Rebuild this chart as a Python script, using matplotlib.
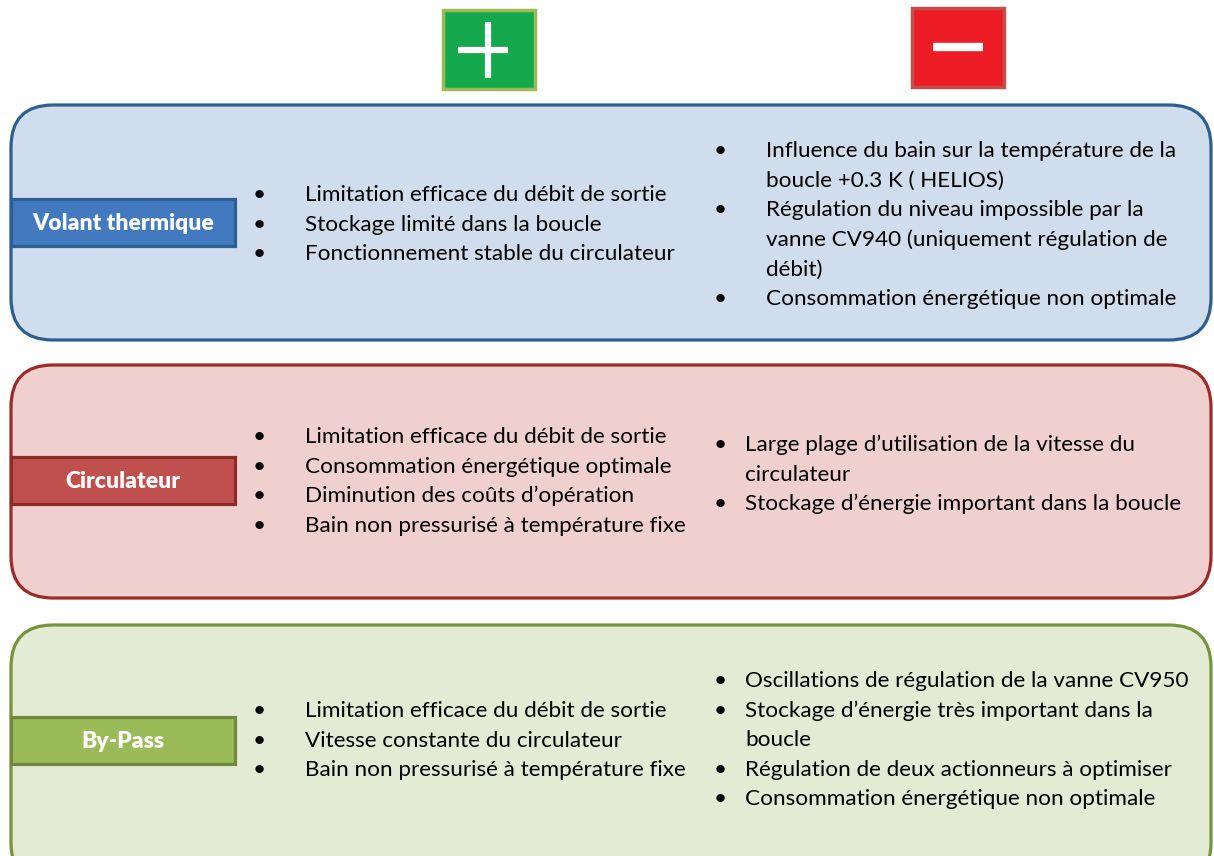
import matplotlib.pyplot as plt
from matplotlib.patches import FancyBboxPatch, Rectangle

# contenu du tableau
categories = ["Volant thermique", "Circulateur", "By-Pass"]
avantages = [
    ["Limitation efficace du débit de sortie",
     "Stockage limité dans la boucle",
     "Fonctionnement stable du circulateur"],
    ["Limitation efficace du débit de sortie",
     "Consommation énergétique optimale",
     "Diminution des coûts d\u2019opération",
     "Bain non pressurisé à température fixe"],
    ["Limitation efficace du débit de sortie",
     "Vitesse constante du circulateur",
     "Bain non pressurisé à température fixe"],
]
inconvenients = [
    ["Influence du bain sur la température de la\nboucle +0.3 K ( HELIOS)",
     "Régulation du niveau impossible par la\nvanne CV940 (uniquement régulation de\ndébit)",
     "Consommation énergétique non optimale"],
    ["Large plage d\u2019utilisation de la vitesse du\ncirculateur",
     "Stockage d\u2019énergie important dans la boucle"],
    ["Oscillations de régulation de la vanne CV950",
     "Stockage d\u2019énergie très important dans la\nboucle",
     "Régulation de deux actionneurs à optimiser",
     "Consommation énergétique non optimale"],
]

# styles / mise en page
fonds = ["#D0DDEC", "#F0D0CF", "#E4EBD5"]
bords = ["#2E5E8E", "#9A2B29", "#77933C"]
fonds_label = ["#4279BF", "#C0504D", "#9BBB59"]
bords_label = ["#2E5F93", "#8C2B28", "#71893F"]
panneau_y = [105, 365, 625]
panneau_h = [235, 233, 260]
label_y = [199, 457, 717]
gauche_y0 = [195, 437, 711]
droite_y0 = [151, 445, 681]
texte_droite_x = [766, 745, 745]
interligne = 29.6
police = "Lato"
taille = 16.2

fig = plt.figure(figsize=(12.14, 8.56), dpi=100)
ax = fig.add_axes([0, 0, 1, 1])
ax.set_xlim(0, 1214)
ax.set_ylim(856, 0)
ax.axis("off")

# boites + et -
ax.add_patch(Rectangle((443, 10), 92, 79, facecolor="#13A84B", edgecolor="#9BBB59", lw=2.5))
ax.plot([488, 488], [22, 78], color="white", lw=4.5, solid_capstyle="butt")
ax.plot([458, 508], [50, 50], color="white", lw=4.5, solid_capstyle="butt")
ax.add_patch(Rectangle((912, 8), 92, 79, facecolor="#ED1C24", edgecolor="#C0504D", lw=2.5))
ax.plot([933, 983], [47, 47], color="white", lw=6, solid_capstyle="butt")

for i, cat in enumerate(categories):
    y0 = panneau_y[i]
    h = panneau_h[i]
    ax.add_patch(FancyBboxPatch((11, y0), 1200, h,
                                boxstyle="round,pad=0,rounding_size=42",
                                facecolor=fonds[i], edgecolor=bords[i], lw=2.3))
    ax.add_patch(Rectangle((11, label_y[i]), 224, 47, facecolor=fonds_label[i],
                           edgecolor=bords_label[i], lw=2.3))
    ax.text(123, label_y[i] + 24, cat, color="white", fontsize=16.5, fontweight="heavy",
            family=police, ha="center", va="center")

    # colonne gauche
    for k, t in enumerate(avantages[i]):
        yy = gauche_y0[i] + k * interligne
        ax.text(259, yy, "\u2022", fontsize=taille, family=police, ha="center", va="center")
        ax.text(305, yy, t, fontsize=taille, family=police, ha="left", va="center")

    # colonne droite
    k = 0
    for t in inconvenients[i]:
        yy = droite_y0[i] + k * interligne
        ax.text(720, yy, "\u2022", fontsize=taille, family=police, ha="center", va="center")
        for l in t.split("\n"):
            ax.text(texte_droite_x[i], droite_y0[i] + k * interligne, l, fontsize=taille,
                    family=police, ha="left", va="center")
            k += 1

fig.savefig("out.png", dpi=100, facecolor="white")
